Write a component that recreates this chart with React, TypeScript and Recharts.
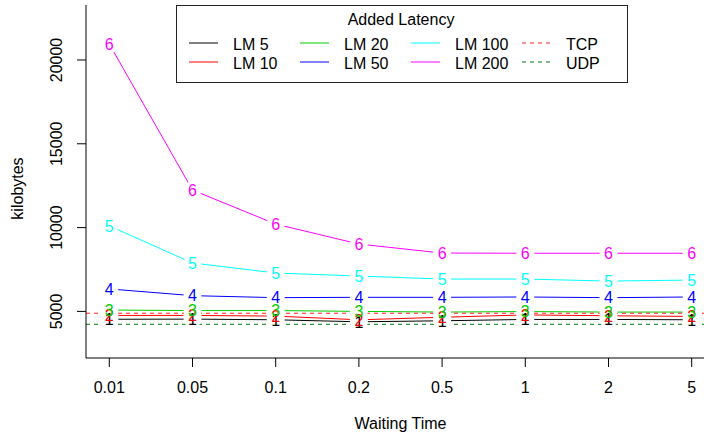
import React from 'react';
import {
  LineChart, Line, XAxis, YAxis, ReferenceLine, Legend,
} from 'recharts';

const waitTimes = ['0.01', '0.05', '0.1', '0.2', '0.5', '1', '2', '5'];

// kilobytes per added latency
const lm5 = [4530, 4540, 4500, 4380, 4440, 4520, 4520, 4500];
const lm10 = [4760, 4760, 4720, 4500, 4650, 4790, 4740, 4700];
const lm20 = [5080, 5050, 5050, 5000, 4960, 4990, 4960, 4960];
const lm50 = [6340, 5940, 5820, 5840, 5840, 5860, 5820, 5860];
const lm100 = [10100, 7890, 7290, 7110, 6930, 6930, 6810, 6870];
const lm200 = [20950, 12240, 10210, 9020, 8480, 8470, 8470, 8470];

const tcpLevel = 4890;
const udpLevel = 4230;

const yTicks = [5000, 10000, 15000, 20000];

const series = [
  { key: 'lm5', name: 'LM 5', mark: '1', color: '#000000', values: lm5 },
  { key: 'lm10', name: 'LM 10', mark: '2', color: '#ff0000', values: lm10 },
  { key: 'lm20', name: 'LM 20', mark: '3', color: '#00cd00', values: lm20 },
  { key: 'lm50', name: 'LM 50', mark: '4', color: '#0000ff', values: lm50 },
  { key: 'lm100', name: 'LM 100', mark: '5', color: '#00ffff', values: lm100 },
  { key: 'lm200', name: 'LM 200', mark: '6', color: '#ff00ff', values: lm200 },
];

const data = waitTimes.map((w, i) => {
  const row: Record<string, string | number> = { wait: w };
  series.forEach(s => { row[s.key] = s.values[i]; });
  return row;
});

const FONT = '"Liberation Sans", Arial, Helvetica, sans-serif';
const FS = 16;
const TCP_COLOR = '#ff2020';
const UDP_COLOR = '#007a00';

const legendItems = [
  ...series.map(s => ({ name: s.name, color: s.color, dashed: false })),
  { name: 'TCP', color: TCP_COLOR, dashed: true },
  { name: 'UDP', color: UDP_COLOR, dashed: true },
];

function LegendBox() {
  return (
    <svg width={452} height={78} style={{ display: 'block', fontFamily: FONT }}>
      <rect x={0.5} y={0.5} width={451} height={77} fill="#fff" stroke="#222" />
      <text x={225} y={20} textAnchor="middle" fontSize={FS} fill="#000">Added Latency</text>
      {legendItems.map((it, i) => {
        const col = Math.floor(i / 2);
        const row = i % 2;
        const x0 = 13 + col * 111;
        const ly = 38 + row * 19;
        return (
          <g key={it.name}>
            <line
              x1={x0} x2={x0 + 29} y1={ly} y2={ly}
              stroke={it.color} strokeWidth={1}
              strokeDasharray={it.dashed ? '4 4' : undefined}
            />
            <text x={x0 + 44} y={ly + 6.5} fontSize={FS} fill="#000">{it.name}</text>
          </g>
        );
      })}
    </svg>
  );
}

function XTick({ x, y, payload }: any) {
  return (
    <text x={x} y={y} dy={24} textAnchor="middle" fontSize={FS} fill="#000" fontFamily={FONT}>
      {payload.value}
    </text>
  );
}

function YTick({ x, y, payload }: any) {
  const bx = x - 13;
  return (
    <text
      x={bx} y={y} textAnchor="middle" fontSize={FS} fill="#000" fontFamily={FONT}
      transform={`rotate(-90 ${bx} ${y})`}
    >
      {payload.value}
    </text>
  );
}

function gapDot(props: any) {
  const { cx, cy, index } = props;
  return <circle key={`g-${index}`} cx={cx} cy={cy} r={9} fill="#fff" stroke="none" />;
}

function markDot(mark: string, color: string) {
  return (props: any) => {
    const { cx, cy, index } = props;
    return (
      <text
        key={`m-${index}`} x={cx} y={cy} dy="0.36em" textAnchor="middle"
        fontSize={FS} fill={color} fontFamily={FONT}
      >
        {mark}
      </text>
    );
  };
}

export default function App() {
  return (
    <div style={{
      position: 'fixed', left: 0, top: 0, width: 704, height: 439,
      overflow: 'hidden', background: '#fff',
    }}>
      <LineChart
        width={720}
        height={439}
        data={data}
        margin={{ top: 5, right: 5, left: 0, bottom: 0 }}
        style={{ fontFamily: FONT }}
      >
        <XAxis
          dataKey="wait"
          height={81}
          padding={{ left: 23.3, right: 23.3 }}
          axisLine={{ stroke: '#000' }}
          tickLine={{ stroke: '#000' }}
          tickSize={9}
          tick={<XTick />}
          interval={0}
          label={(p: any) => {
            const vb = p.viewBox;
            return (
              <text
                x={vb.x + vb.width / 2} y={vb.y + 71} textAnchor="middle"
                fontSize={FS} fill="#000" fontFamily={FONT}
              >
                Waiting Time
              </text>
            );
          }}
        />
        <XAxis
          xAxisId="top"
          dataKey="wait"
          orientation="top"
          height={0}
          padding={{ left: 23.3, right: 23.3 }}
          axisLine={{ stroke: '#000' }}
          tick={false}
          tickLine={false}
        />
        <YAxis
          type="number"
          domain={[2220, 23280]}
          ticks={yTicks}
          allowDataOverflow
          width={86}
          axisLine={{ stroke: '#000' }}
          tickLine={{ stroke: '#000' }}
          tickSize={9}
          tick={<YTick />}
          label={(p: any) => {
            const vb = p.viewBox;
            const lx = vb.x + 23;
            const ly = vb.y + vb.height / 2 + 7;
            return (
              <text
                x={lx} y={ly} textAnchor="middle" fontSize={FS} fill="#000" fontFamily={FONT}
                transform={`rotate(-90 ${lx} ${ly})`}
              >
                kilobytes
              </text>
            );
          }}
        />
        {series.map(s => (
          <Line
            key={s.key}
            type="linear"
            dataKey={s.key}
            stroke={s.color}
            strokeWidth={1}
            dot={gapDot}
            activeDot={false}
            legendType="none"
            isAnimationActive={false}
          />
        ))}
        {series.map(s => (
          <Line
            key={`${s.key}-mark`}
            type="linear"
            dataKey={s.key}
            stroke="none"
            dot={markDot(s.mark, s.color)}
            activeDot={false}
            legendType="none"
            isAnimationActive={false}
          />
        ))}
        <ReferenceLine y={tcpLevel} stroke={TCP_COLOR} strokeDasharray="4 4" strokeWidth={1} />
        <ReferenceLine y={udpLevel} stroke={UDP_COLOR} strokeDasharray="4 4" strokeWidth={1} />
        <Legend
          layout="horizontal"
          verticalAlign="middle"
          align="center"
          content={() => <LegendBox />}
          wrapperStyle={{ left: 176, top: 5, width: 452, height: 78 }}
        />
      </LineChart>
    </div>
  );
}
